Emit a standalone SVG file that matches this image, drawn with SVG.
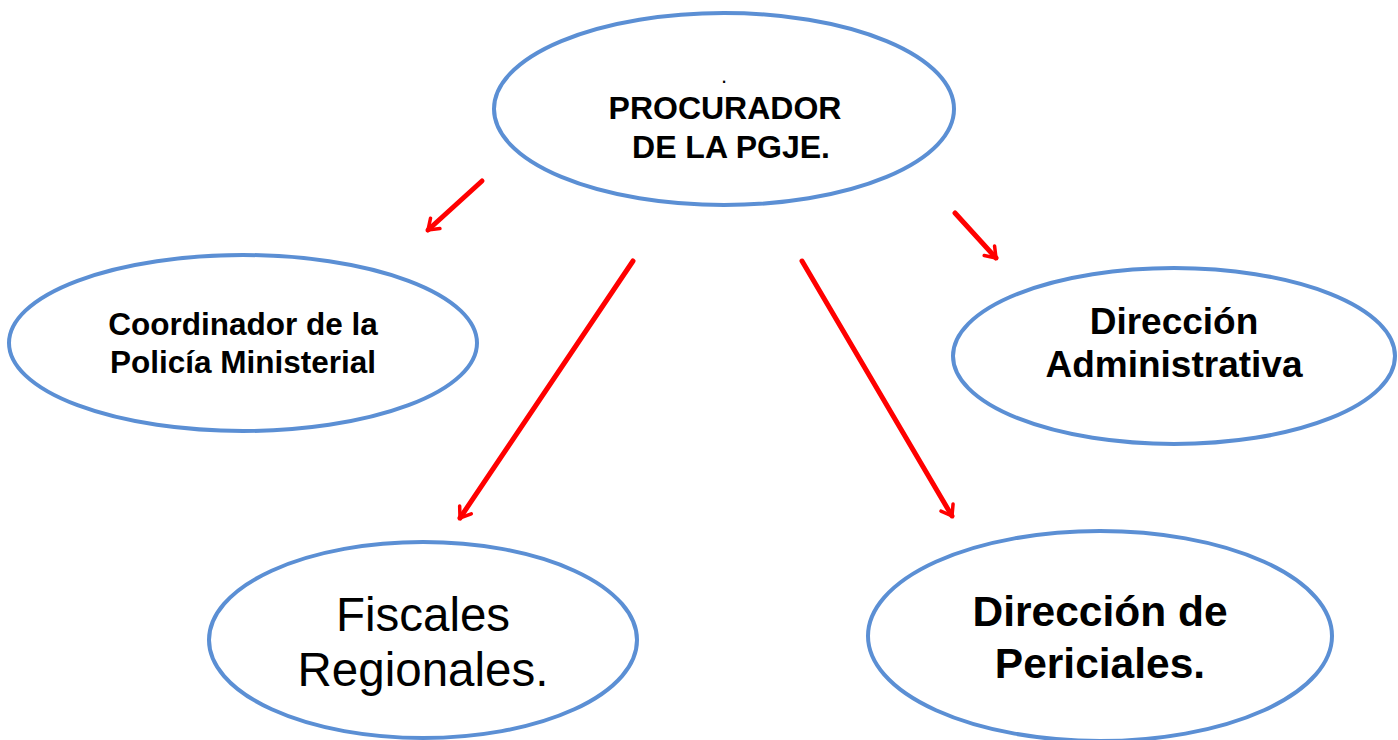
<svg xmlns="http://www.w3.org/2000/svg" width="1398" height="740" viewBox="0 0 1398 740">
<style>
.node ellipse{fill:#fff;stroke:#5b8fd4;stroke-width:4}
text{font-family:"Liberation Sans",Arial,sans-serif;fill:#000;text-anchor:middle}
.b{font-weight:bold}
.conn line{stroke:#ff0000;stroke-width:5;stroke-linecap:round}
</style>
<defs>
<marker id="ah" viewBox="0 0 10 10" refX="9" refY="5" markerWidth="7" markerHeight="7" markerUnits="userSpaceOnUse" orient="auto" overflow="visible">
<path d="M-14,-10 L0,0 L-14,10" transform="translate(9,5)" fill="none" stroke="#ff0000" stroke-width="5" stroke-linecap="round" stroke-linejoin="miter"/>
</marker>
</defs>
<rect width="1398" height="740" fill="#fff"/>
<g id="n-procurador" class="node">
<ellipse cx="724" cy="109" rx="230" ry="96"/>
<text x="724" y="83" style="font-size:22px">.</text>
<text class="b" x="725" y="119" style="font-size:32px">PROCURADOR</text>
<text class="b" x="731" y="158" style="font-size:32px">DE LA PGJE.</text>
</g>
<g id="n-coordinador" class="node">
<ellipse cx="243" cy="343" rx="234" ry="88"/>
<text class="b" x="243" y="335" style="font-size:31.5px">Coordinador de la</text>
<text class="b" x="243" y="373" style="font-size:31.5px">Policía Ministerial</text>
</g>
<g id="n-administrativa" class="node">
<ellipse cx="1174" cy="356" rx="221" ry="88"/>
<text class="b" x="1174" y="334" style="font-size:37px">Dirección</text>
<text class="b" x="1174" y="377" style="font-size:37px">Administrativa</text>
</g>
<g id="n-fiscales" class="node">
<ellipse cx="423" cy="640" rx="214" ry="98"/>
<text x="423" y="631" style="font-size:47.5px">Fiscales</text>
<text x="423" y="686" style="font-size:47.5px">Regionales.</text>
</g>
<g id="n-periciales" class="node">
<ellipse cx="1100" cy="636" rx="232" ry="105"/>
<text class="b" x="1100" y="626" style="font-size:42.5px">Dirección de</text>
<text class="b" x="1100" y="678" style="font-size:42.5px">Periciales.</text>
</g>
<g id="connectors" class="conn">
<line x1="482" y1="181" x2="428" y2="230" marker-end="url(#ah)"/>
<line x1="955" y1="213" x2="996" y2="258" marker-end="url(#ah)"/>
<line x1="633" y1="261" x2="460" y2="518" marker-end="url(#ah)"/>
<line x1="802" y1="261" x2="952" y2="516" marker-end="url(#ah)"/>
</g>
</svg>
